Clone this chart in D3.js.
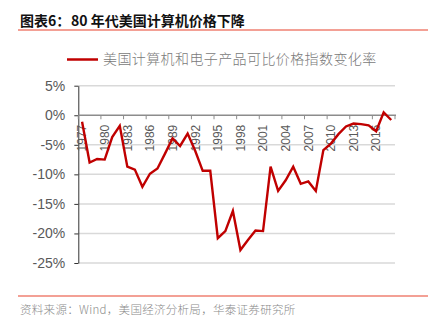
<!DOCTYPE html>
<html>
<head>
<meta charset="utf-8">
<script src="https://cdn.jsdelivr.net/npm/d3@7"></script>
<style>
  html, body { margin: 0; padding: 0; background: #fff; }
  svg { display: block; }
</style>
</head>
<body>
<svg id="chart" width="429" height="323"></svg>
<script>
// Annual change of the US computer & electronics price index, 1977–2018 (%)
const years = d3.range(1977, 2019);
const priceChange = [
  -1.1, -8.0, -7.4, -7.5, -3.7, -1.8, -8.7, -9.2, -12.1, -9.9,
  -9.0, -6.5, -3.9, -5.2, -3.1, -6.0, -9.4, -9.4, -20.8, -19.6,
  -16.2, -22.8, -21.1, -19.5, -19.6, -8.7, -12.8, -11.0, -8.7, -11.6,
  -11.2, -12.8, -5.9, -4.8, -3.2, -1.9, -1.4, -1.5, -1.7, -2.7,
  0.5, -0.8
];
const yTicks = [5, 0, -5, -10, -15, -20, -25];
const labelYears = years.filter((d, i) => i % 3 === 0);

const title = "图表6：";
const subtitle = "80 年代美国计算机价格下降";
const seriesName = "美国计算机和电子产品可比价格指数变化率";
const source = "资料来源：Wind，美国经济分析局，华泰证券研究所";

const svg = d3.select("#chart");
const plot = { left: 78.3, right: 395, top: 85.7, bottom: 263 };

const x = d3.scaleBand().domain(years).range([plot.left, plot.right]).padding(0);
const y = d3.scaleLinear().domain([-25, 5]).range([plot.bottom, plot.top]);
const bw = x.bandwidth();

// Header
svg.append("text").attr("x", 20).attr("y", 26)
  .attr("font-family", "'Noto Sans CJK SC', sans-serif").attr("font-weight", 700)
  .attr("font-size", 14).attr("fill", "#111").text(title);
svg.append("text").attr("x", 71).attr("y", 26)
  .attr("font-family", "'Noto Sans CJK SC', sans-serif").attr("font-weight", 700)
  .attr("font-size", 14).attr("fill", "#111").text(subtitle);
svg.append("line").attr("x1", 18).attr("x2", 428).attr("y1", 30).attr("y2", 30)
  .attr("stroke", "#e8432d").attr("stroke-width", 1.2);

// Legend
svg.append("line").attr("x1", 67).attr("x2", 98).attr("y1", 59.5).attr("y2", 59.5)
  .attr("stroke", "#c00000").attr("stroke-width", 2.5);
svg.append("text").attr("x", 103).attr("y", 59.5).attr("dy", "0.35em")
  .attr("font-family", "'Noto Sans CJK SC', sans-serif").attr("font-weight", 300)
  .attr("font-size", 14).attr("letter-spacing", 0.4).attr("fill", "#7a7a7a").text(seriesName);

// Gridlines
svg.append("g").selectAll("line").data(yTicks.filter(d => d !== 0)).join("line")
  .attr("x1", plot.left).attr("x2", plot.right)
  .attr("y1", d => y(d)).attr("y2", d => y(d))
  .attr("stroke", "#d9d9d9").attr("stroke-width", 1.5);

// Y axis
const yAxis = svg.append("g").attr("transform", `translate(${plot.left},0)`)
  .call(d3.axisLeft(y).tickValues(yTicks).tickFormat(d => d + "%").tickSizeInner(4).tickSizeOuter(0));
yAxis.select(".domain").attr("stroke", "#333");
yAxis.selectAll(".tick line").attr("stroke", "#333");
yAxis.selectAll(".tick text").attr("x", -13)
  .attr("font-family", "'Liberation Sans', Arial, sans-serif").attr("font-size", 14).attr("fill", "#595959");

// X axis at zero
const xAxis = svg.append("g").attr("transform", `translate(0,${y(0)})`)
  .call(d3.axisBottom(x).tickValues(labelYears).tickSizeInner(4).tickSizeOuter(0));
xAxis.select(".domain").attr("stroke", "#8c8c8c").attr("stroke-width", 1.5)
  .attr("d", `M${plot.left},0H${plot.right + 1}`);
xAxis.selectAll(".tick line").attr("x1", -bw / 2).attr("x2", -bw / 2).attr("stroke", "#8c8c8c");
xAxis.append("line").attr("x1", plot.right).attr("x2", plot.right).attr("y1", 0).attr("y2", 4)
  .attr("stroke", "#8c8c8c");
xAxis.selectAll(".tick text")
  .attr("transform", "rotate(-90)").attr("x", -9.5).attr("y", 0).attr("dy", "0.36em")
  .attr("text-anchor", "end")
  .attr("font-family", "'Liberation Sans', Arial, sans-serif").attr("font-size", 12).attr("fill", "#595959");

// Series line
const line = d3.line()
  .x((d, i) => x(years[i]) + bw / 2)
  .y(d => y(d));
svg.append("path").datum(priceChange)
  .attr("d", line).attr("fill", "none")
  .attr("stroke", "#c00000").attr("stroke-width", 2.4).attr("stroke-linejoin", "miter");

// Footer
svg.append("line").attr("x1", 18).attr("x2", 428).attr("y1", 296).attr("y2", 296)
  .attr("stroke", "#e8432d").attr("stroke-width", 1.2);
svg.append("text").attr("x", 20).attr("y", 310).attr("dy", "0.35em")
  .attr("font-family", "'Noto Sans CJK SC', sans-serif").attr("font-weight", 300)
  .attr("font-size", 11.5).attr("letter-spacing", 0.3).attr("fill", "#8a8a8a").text(source);
</script>
</body>
</html>
